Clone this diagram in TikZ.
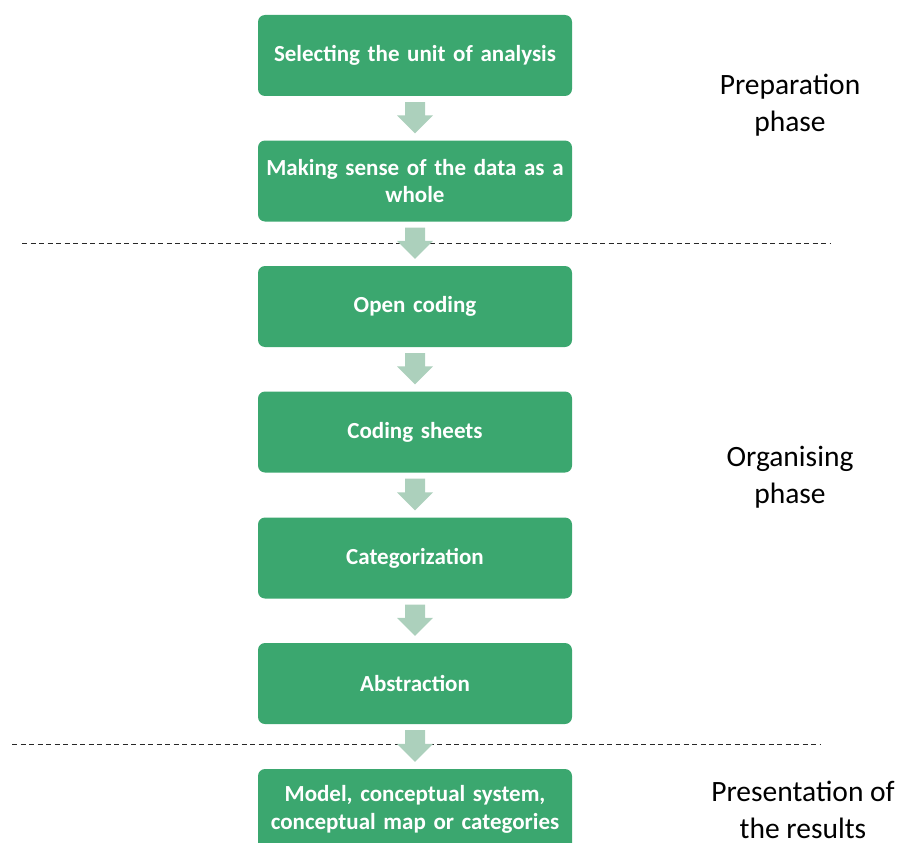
\documentclass[tikz,border=0pt]{standalone}
\usepackage{fontspec}
\setmainfont{Carlito}
\usetikzlibrary{calc}
\definecolor{boxgreen}{RGB}{59,167,111}
\definecolor{arrowgreen}{RGB}{172,208,188}
\definecolor{dashgray}{RGB}{40,40,40}
\tikzset{
  x=1pt, y=-1pt,
  stepbox/.style={fill=boxgreen, rounded corners=7pt, minimum width=314pt, minimum height=81pt,
    inner sep=0pt, text=white, font=\fontsize{23}{27.5}\selectfont\bfseries, align=center, text width=310pt},
  phaselabel/.style={font=\fontsize{29.5}{37}\selectfont, align=center, inner sep=0pt},
  sepline/.style={draw=dashgray, line width=1.4pt, dash pattern=on 5pt off 3.5pt},
}
\newcommand{\blockarrow}[2]{%
  \fill[arrowgreen] ($(#1.south)+(-10,6)$) -- ($(#1.south)+(10,6)$) --
    ($(#2.north)+(10,-25)$) -- ($(#2.north)+(18,-25)$) -- ($(#2.north)+(0,-7)$) --
    ($(#2.north)+(-18,-25)$) -- ($(#2.north)+(-10,-25)$) -- cycle;}
\begin{document}
\begin{tikzpicture}
\useasboundingbox (0,0) rectangle (900,843);
\begin{scope}
\clip (0,0) rectangle (900,843);
\node[stepbox] (s1) at (415,55.5) {Selecting the unit of analysis};
\node[stepbox] (s2) at (415,181) {Making sense of the data as a\\whole};
\node[stepbox] (s3) at (415,306.5) {Open coding};
\node[stepbox] (s4) at (415,432) {Coding sheets};
\node[stepbox] (s5) at (415,558) {Categorization};
\node[stepbox] (s6) at (415,683.5) {Abstraction};
\node[stepbox] (s7) at (415,809.5) {Model, conceptual system,\\conceptual map or categories};
\end{scope}
\coordinate (d1a) at (22,243.5);
\coordinate (d1b) at (831,243.5);
\coordinate (d2a) at (12,744.5);
\coordinate (d2b) at (821,744.5);
\draw[sepline] (d1a) -- (d1b);
\draw[sepline] (d2a) -- (d2b);
\blockarrow{s1}{s2}
\blockarrow{s2}{s3}
\blockarrow{s3}{s4}
\blockarrow{s4}{s5}
\blockarrow{s5}{s6}
\blockarrow{s6}{s7}
\node[phaselabel] (p1) at (790,105) {Preparation\\phase};
\node[phaselabel] (p2) at (790,477) {Organising\\phase};
\node[phaselabel] (p3) at (803,810) {Presentation of\\the results};
\end{tikzpicture}
\end{document}
